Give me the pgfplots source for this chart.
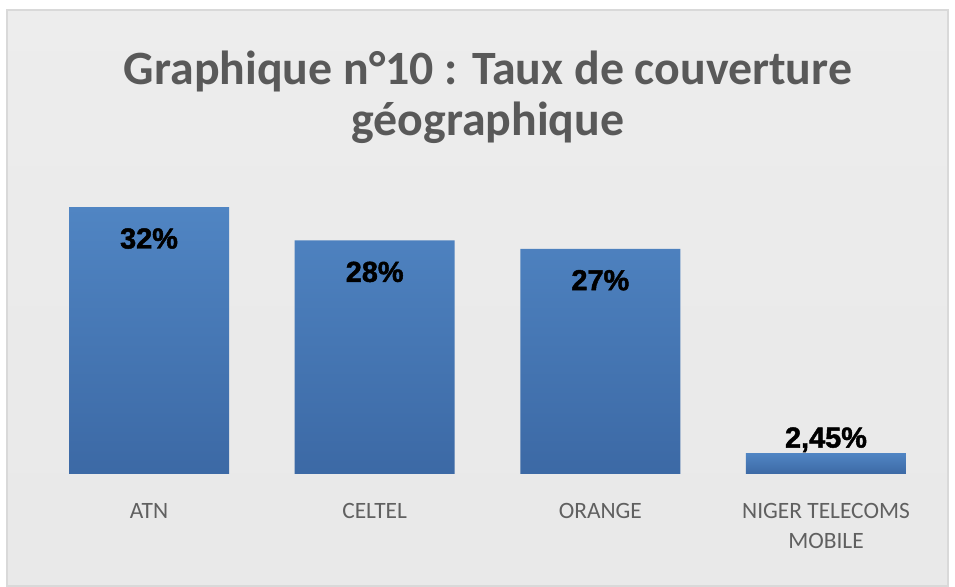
\documentclass[border=0pt]{standalone}
\usepackage{fontspec}
\setmainfont{Carlito}
\newfontfamily\valfont[BoldFeatures={FakeBold=1.6}]{Liberation Sans}
\usepackage{pgfplots}
\pgfplotsset{compat=1.18}
\definecolor{titlegray}{HTML}{595959}
\definecolor{labgray}{HTML}{606060}
\definecolor{bordergray}{HTML}{D9D9D9}
\definecolor{bartop}{HTML}{5085C3}
\definecolor{barbot}{HTML}{3C69A5}
\definecolor{bgA}{HTML}{F4F4F4}
\definecolor{bgB}{HTML}{E2E2E2}
\definecolor{bgC}{HTML}{EBEBEB}
\definecolor{bgD}{HTML}{F8F8F8}
\pgfdeclareverticalshading{bgshade}{955bp}{color(0bp)=(white); color(60bp)=(bgA); color(170bp)=(bgB); color(300bp)=(bgC); color(430bp)=(bgD); color(587bp)=(white)}
\begin{document}
\begin{tikzpicture}[x=1bp,y=1bp]
\useasboundingbox (0,0) rectangle (955,587);
\fill[white] (0,0) rectangle (955,587);
\shade[shading=bgshade] (7,1) rectangle (948,577);
\draw[bordergray, line width=1.5bp] (7,1) rectangle (948,577);
\node[anchor=base, inner sep=0pt, text=titlegray, font=\fontsize{48}{52}\selectfont\bfseries] at (488,502) {Graphique n°10 : Taux de couverture};
\node[anchor=base, inner sep=0pt, text=titlegray, font=\fontsize{48}{52}\selectfont\bfseries] at (488,451) {géographique};
\begin{axis}[
  at={(36.2bp,113bp)}, anchor=south west,
  scale only axis, width=902.6bp, height=291.9bp,
  xmin=-0.5, xmax=3.5, ymin=0, ymax=35,
  hide y axis, axis x line*=bottom, x axis line style={draw=none},
  xtick={0,1,2,3},
  xticklabels={ATN,CELTEL,ORANGE,{NIGER TELECOMS\\MOBILE}},
  major tick length=0pt,
  xticklabel style={align=center, font=\fontsize{23.5}{30}\selectfont, text=labgray, yshift=-26bp},
  clip=false,
]
\addplot[ybar, bar width=0.709, bar shift=0pt, draw=none, top color=bartop, bottom color=barbot,
  nodes near coords, point meta=explicit symbolic,
  nodes near coords style={anchor=north, yshift=-21bp, inner sep=0pt, text=black, font=\fontsize{29}{29}\selectfont\valfont\bfseries}]
  coordinates {(0,32) [32\%] (1,28) [28\%] (2,27) [27\%]};
\addplot[ybar, bar width=0.709, bar shift=0pt, draw=none, top color=bartop, bottom color=barbot,
  nodes near coords, point meta=explicit symbolic,
  nodes near coords style={anchor=base, yshift=6bp, inner sep=0pt, text=black, font=\fontsize{29}{29}\selectfont\valfont\bfseries}]
  coordinates {(3,2.45) [{2,45\%}]};
\end{axis}
\end{tikzpicture}
\end{document}
